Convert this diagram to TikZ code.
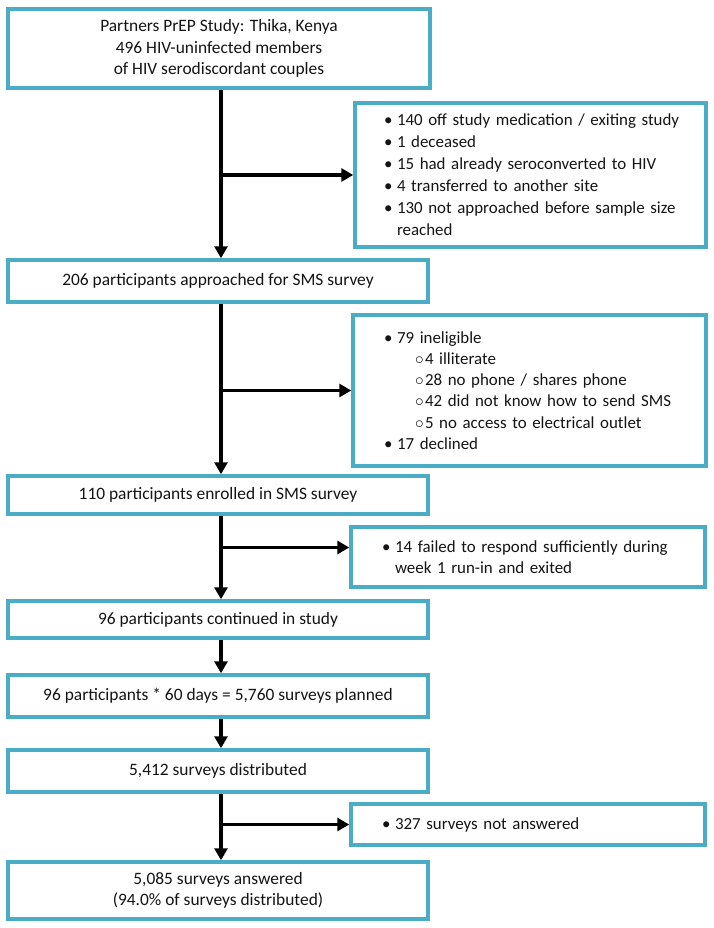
\documentclass[tikz,border=0pt]{standalone}
\usepackage{fontspec}
\setmainfont{Carlito}
\usetikzlibrary{arrows.meta,calc}
\definecolor{boxcyan}{RGB}{75,172,198}
\definecolor{txt}{RGB}{20,20,20}
\newcommand{\bul}[1]{\mbox{\makebox[13pt][l]{•}#1}}
\newcommand{\subbul}[1]{\mbox{\hspace*{31pt}\makebox[10pt][l]{$\circ$}#1}}
\newcommand{\hangpad}[1]{\mbox{\hspace*{13pt}#1}}
\begin{document}
\begin{tikzpicture}[x=1pt,y=-1pt,
  box/.style={draw=boxcyan, line width=3.5pt, fill=white, inner sep=0pt, align=center, text=txt,
              font=\fontsize{17.4}{21.5}\selectfont},
  lbox/.style={box, minimum width=420pt},
  rbox/.style={box, align=left},
  arr/.style={draw=black, line width=3.5pt, -{Triangle[length=12pt,width=13pt]}}]
\useasboundingbox (0,0) rectangle (713,928);
\coordinate (spine) at (221,0);

\node[box, minimum width=422pt, minimum height=79pt] (n1) at (219,48.5)
  {Partners PrEP Study: Thika, Kenya\\496 HIV-uninfected members\\of HIV serodiscordant couples};

\node[rbox, text width=293pt, inner xsep=29pt, minimum height=144pt,
      font=\fontsize{16.9}{22}\selectfont] (n2) at (530.5,175)
  {\bul{140 off study medication / exiting study}\\
   \bul{1 deceased}\\
   \bul{15 had already seroconverted to HIV}\\
   \bul{4 transferred to another site}\\
   \bul{130 not approached before sample size}\\
   \hangpad{reached}};

\node[lbox, minimum height=42pt] (n3) at (218,281)
  {206 participants approached for SMS survey};

\node[rbox, text width=291pt, inner xsep=31pt, minimum height=151pt,
      font=\fontsize{16.9}{21.2}\selectfont] (n4) at (529.5,390.5)
  {\bul{79 ineligible}\\
   \subbul{4 illiterate}\\
   \subbul{28 no phone / shares phone}\\
   \subbul{42 did not know how to send SMS}\\
   \subbul{5 no access to electrical outlet}\\
   \bul{17 declined}};

\node[lbox, minimum height=38pt] (n5) at (218,495)
  {110 participants enrolled in SMS survey};

\node[rbox, text width=292pt, inner xsep=31pt, minimum height=60pt,
      font=\fontsize{16.9}{20.5}\selectfont] (n6) at (528,557)
  {\bul{14 failed to respond sufficiently during}\\
   \hangpad{week 1 run-in and exited}};

\node[lbox, minimum height=37pt] (n7) at (218,619.5)
  {96 participants continued in study};

\node[lbox, minimum height=42pt] (n8) at (218,696)
  {96 participants * 60 days = 5,760 surveys planned};

\node[lbox, minimum height=42pt] (n9) at (218,771)
  {5,412 surveys distributed};

\node[rbox, text width=292pt, inner xsep=31pt, minimum height=41pt,
      font=\fontsize{16.9}{20.5}\selectfont] (n10) at (528,824.5)
  {\bul{327 surveys not answered}};

\node[lbox, minimum height=57pt] (n11) at (218,890.5)
  {5,085 surveys answered\\(94.0\% of surveys distributed)};

\coordinate (a6) at ($(n6.north west)!0.35!(n6.south west)$);

\draw[arr] (n1.south -| spine) -- (n3.north -| spine);
\draw[arr] (spine |- n2.west) -- (n2.west);
\draw[arr] (n3.south -| spine) -- (n5.north -| spine);
\draw[arr] (spine |- n4.west) -- (n4.west);
\draw[arr] (n5.south -| spine) -- (n7.north -| spine);
\draw[arr] (spine |- a6) -- (a6);
\draw[arr] (n7.south -| spine) -- (n8.north -| spine);
\draw[arr] (n8.south -| spine) -- (n9.north -| spine);
\draw[arr] (n9.south -| spine) -- (n11.north -| spine);
\draw[arr] (spine |- n10.west) -- (n10.west);
\end{tikzpicture}
\end{document}
